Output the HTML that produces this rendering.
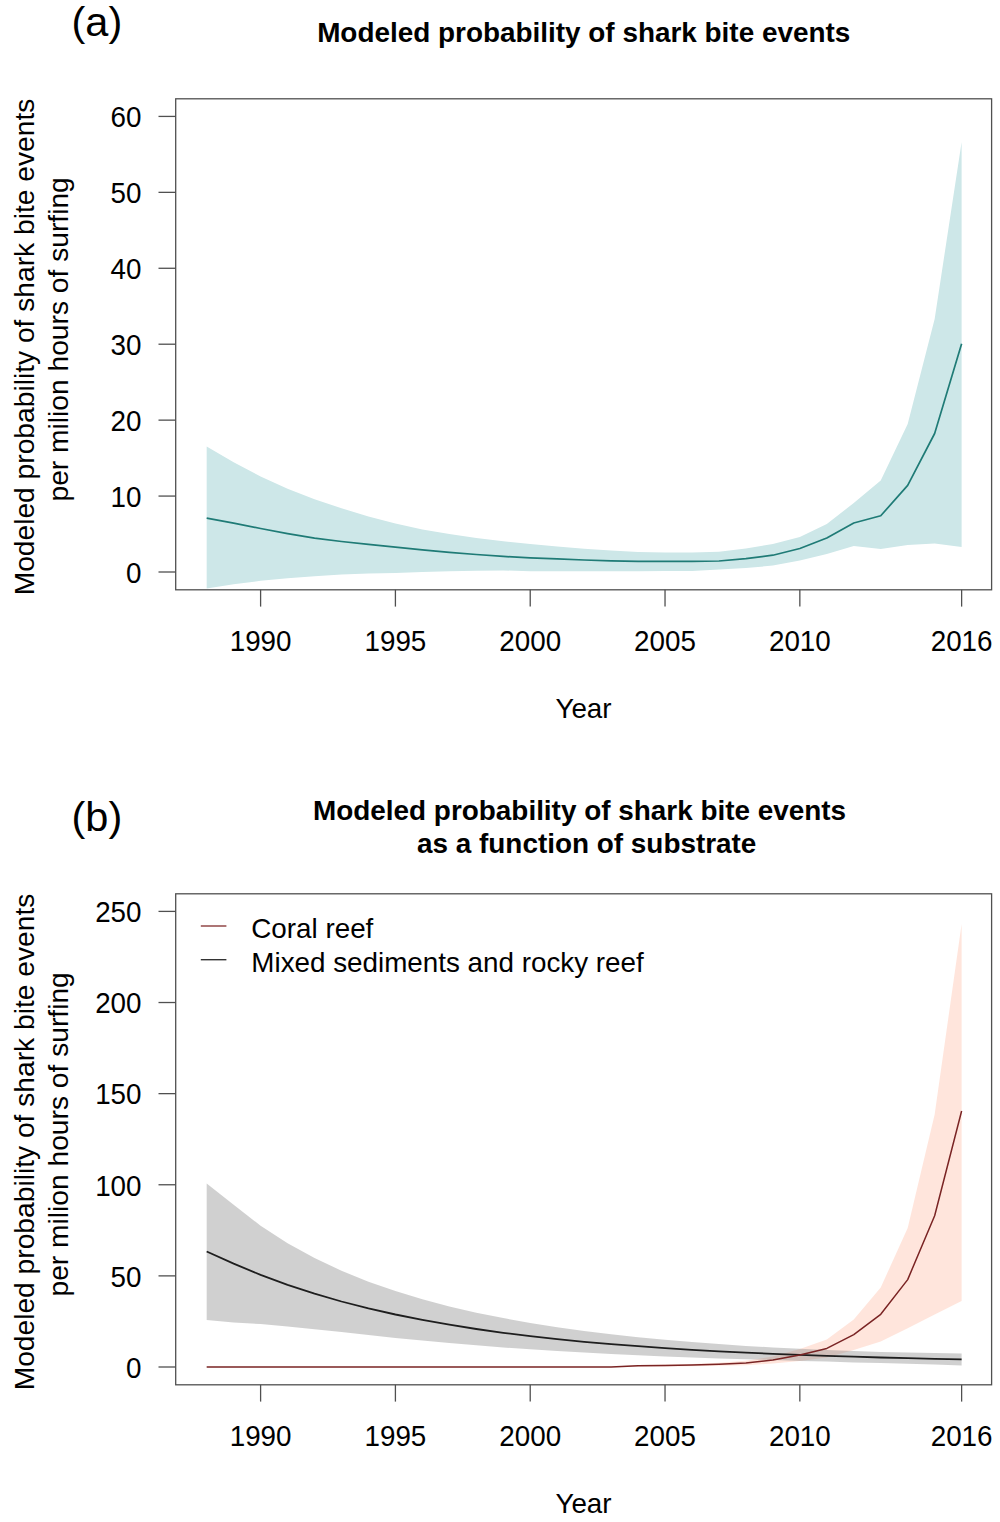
<!DOCTYPE html>
<html><head><meta charset="utf-8"><style>
html,body{margin:0;padding:0;background:#fff;width:1000px;height:1522px;overflow:hidden}
svg{display:block}
.t{font-family:"Liberation Sans", sans-serif;font-size:27.8px;fill:#000}
.b{font-family:"Liberation Sans", sans-serif;font-size:27.9px;font-weight:bold;fill:#000}
.ty{font-family:"Liberation Sans", sans-serif;font-size:28.2px;fill:#000}
.lab{font-family:"Liberation Sans", sans-serif;font-size:41.5px;fill:#000}
</style></head><body>
<svg width="1000" height="1522" viewBox="0 0 1000 1522">
<defs><clipPath id="ca"><rect x="175.7" y="98.8" width="815.9000000000001" height="490.99999999999994"/></clipPath><clipPath id="cb"><rect x="175.7" y="98.8" width="815.9000000000001" height="490.99999999999994"/></clipPath></defs>
<rect width="1000" height="1522" fill="#fff"/>
<g transform="translate(0,0)">
<g clip-path="url(#ca)">
<polygon points="206.68,446.50 233.64,462.30 260.60,476.50 287.57,488.80 314.53,499.30 341.49,508.30 368.45,516.50 395.41,523.60 422.38,529.40 449.34,534.00 476.30,538.00 503.26,541.20 530.22,544.00 557.19,546.40 584.15,548.80 611.11,550.40 638.07,552.00 665.03,552.50 692.00,552.50 718.96,551.70 745.92,548.50 772.88,544.00 799.84,537.00 826.81,524.00 853.77,503.00 880.73,480.50 907.69,424.00 934.65,319.00 961.62,142.00 961.62,547.00 934.65,543.60 907.69,545.00 880.73,549.00 853.77,546.00 826.81,554.00 799.84,560.50 772.88,565.60 745.92,568.00 718.96,569.60 692.00,570.90 665.03,570.90 638.07,571.30 611.11,571.20 584.15,571.20 557.19,571.20 530.22,571.20 503.26,570.50 476.30,570.80 449.34,571.30 422.38,571.90 395.41,572.90 368.45,573.40 341.49,574.60 314.53,576.30 287.57,578.20 260.60,580.80 233.64,584.20 206.68,588.60" fill="#cde7e8"/>
<polyline points="206.68,518.10 233.64,523.20 260.60,528.50 287.57,533.60 314.53,538.10 341.49,541.50 368.45,544.40 395.41,547.20 422.38,549.80 449.34,552.40 476.30,554.50 503.26,556.40 530.22,557.90 557.19,558.90 584.15,560.00 611.11,560.80 638.07,561.30 665.03,561.30 692.00,561.30 718.96,561.00 745.92,558.70 772.88,555.20 799.84,548.50 826.81,538.00 853.77,523.00 880.73,515.80 907.69,485.40 934.65,433.50 961.62,343.80" fill="none" stroke="#1f7b76" stroke-width="1.7" stroke-linejoin="round"/>
</g>
<rect x="175.7" y="98.8" width="815.9000000000001" height="490.99999999999994" fill="none" stroke="#505050" stroke-width="1.3"/>
<line x1="158.5" y1="572.0" x2="175.7" y2="572.0" stroke="#505050" stroke-width="1.3"/>
<text transform="translate(141.50,582.80) scale(1,1.045)" text-anchor="end" class="t">0</text>
<line x1="158.5" y1="496.07" x2="175.7" y2="496.07" stroke="#505050" stroke-width="1.3"/>
<text transform="translate(141.50,506.87) scale(1,1.045)" text-anchor="end" class="t">10</text>
<line x1="158.5" y1="420.14" x2="175.7" y2="420.14" stroke="#505050" stroke-width="1.3"/>
<text transform="translate(141.50,430.94) scale(1,1.045)" text-anchor="end" class="t">20</text>
<line x1="158.5" y1="344.21" x2="175.7" y2="344.21" stroke="#505050" stroke-width="1.3"/>
<text transform="translate(141.50,355.01) scale(1,1.045)" text-anchor="end" class="t">30</text>
<line x1="158.5" y1="268.28" x2="175.7" y2="268.28" stroke="#505050" stroke-width="1.3"/>
<text transform="translate(141.50,279.08) scale(1,1.045)" text-anchor="end" class="t">40</text>
<line x1="158.5" y1="192.35" x2="175.7" y2="192.35" stroke="#505050" stroke-width="1.3"/>
<text transform="translate(141.50,203.15) scale(1,1.045)" text-anchor="end" class="t">50</text>
<line x1="158.5" y1="116.42" x2="175.7" y2="116.42" stroke="#505050" stroke-width="1.3"/>
<text transform="translate(141.50,127.22) scale(1,1.045)" text-anchor="end" class="t">60</text>
<line x1="260.60" y1="589.8" x2="260.60" y2="606.6" stroke="#505050" stroke-width="1.3"/>
<text transform="translate(260.60,650.80) scale(1,1.045)" text-anchor="middle" class="t">1990</text>
<line x1="395.41" y1="589.8" x2="395.41" y2="606.6" stroke="#505050" stroke-width="1.3"/>
<text transform="translate(395.41,650.80) scale(1,1.045)" text-anchor="middle" class="t">1995</text>
<line x1="530.22" y1="589.8" x2="530.22" y2="606.6" stroke="#505050" stroke-width="1.3"/>
<text transform="translate(530.22,650.80) scale(1,1.045)" text-anchor="middle" class="t">2000</text>
<line x1="665.03" y1="589.8" x2="665.03" y2="606.6" stroke="#505050" stroke-width="1.3"/>
<text transform="translate(665.03,650.80) scale(1,1.045)" text-anchor="middle" class="t">2005</text>
<line x1="799.84" y1="589.8" x2="799.84" y2="606.6" stroke="#505050" stroke-width="1.3"/>
<text transform="translate(799.84,650.80) scale(1,1.045)" text-anchor="middle" class="t">2010</text>
<line x1="961.62" y1="589.8" x2="961.62" y2="606.6" stroke="#505050" stroke-width="1.3"/>
<text transform="translate(961.62,650.80) scale(1,1.045)" text-anchor="middle" class="t">2016</text>
<text transform="translate(583.50,717.80) scale(1,1.0)" text-anchor="middle" class="t">Year</text>
<text transform="translate(34.40,347.00) rotate(-90) scale(1,1.0)" text-anchor="middle" class="ty">Modeled probability of shark bite events</text>
<text transform="translate(68.20,339.38) rotate(-90) scale(1,1.0)" text-anchor="middle" class="ty">per milion hours of surfing</text>
<text transform="translate(71.50,36.00) scale(1,1.0)" class="lab">(a)</text>
<text transform="translate(583.70,42.00) scale(1,1.0)" text-anchor="middle" class="b">Modeled probability of shark bite events</text>
</g>
<g transform="translate(0,795)">
<g clip-path="url(#cb)">
<polygon points="206.68,571.70 233.64,571.70 260.60,571.70 287.57,571.70 314.53,571.70 341.49,571.70 368.45,571.70 395.41,571.70 422.38,571.70 449.34,571.70 476.30,571.70 503.26,571.70 530.22,571.70 557.19,571.70 584.15,571.70 611.11,571.70 638.07,570.00 665.03,569.60 692.00,569.00 718.96,567.80 745.92,565.80 772.88,561.50 799.84,554.00 826.81,544.60 853.77,524.60 880.73,492.50 907.69,433.00 934.65,319.50 961.62,129.00 961.62,506.00 934.65,519.40 907.69,533.20 880.73,546.50 853.77,555.00 826.81,562.50 799.84,566.00 772.88,568.50 745.92,570.20 718.96,570.80 692.00,571.20 665.03,571.40 638.07,571.60 611.11,572.10 584.15,572.10 557.19,572.10 530.22,572.10 503.26,572.10 476.30,572.10 449.34,572.10 422.38,572.10 395.41,572.10 368.45,572.10 341.49,572.10 314.53,572.10 287.57,572.10 260.60,572.10 233.64,572.10 206.68,572.10" fill="rgb(255,127,80)" fill-opacity="0.2"/>
<polygon points="206.68,388.50 233.64,409.80 260.60,430.70 287.57,448.20 314.53,463.10 341.49,475.80 368.45,486.70 395.41,496.10 422.38,504.30 449.34,511.40 476.30,517.70 503.26,523.10 530.22,528.00 557.19,532.20 584.15,536.00 611.11,539.30 638.07,542.20 665.03,544.80 692.00,547.10 718.96,549.10 745.92,550.90 772.88,552.50 799.84,553.80 826.81,555.00 853.77,556.00 880.73,556.90 907.69,557.50 934.65,558.00 961.62,558.40 961.62,570.40 934.65,569.60 907.69,568.80 880.73,568.10 853.77,567.40 826.81,566.60 799.84,565.90 772.88,565.10 745.92,564.30 718.96,563.40 692.00,562.40 665.03,561.40 638.07,560.20 611.11,559.00 584.15,557.60 557.19,556.00 530.22,554.30 503.26,552.40 476.30,550.30 449.34,548.10 422.38,545.60 395.41,542.90 368.45,540.10 341.49,537.10 314.53,534.20 287.57,531.40 260.60,529.10 233.64,527.50 206.68,525.00" fill="rgb(128,128,128)" fill-opacity="0.37"/>
<polyline points="206.68,456.50 233.64,468.60 260.60,479.90 287.57,489.80 314.53,498.60 341.49,506.50 368.45,513.40 395.41,519.50 422.38,524.90 449.34,529.70 476.30,534.00 503.26,537.80 530.22,541.10 557.19,544.10 584.15,546.80 611.11,549.10 638.07,551.20 665.03,553.10 692.00,554.80 718.96,556.30 745.92,557.60 772.88,558.80 799.84,559.90 826.81,560.80 853.77,561.70 880.73,562.50 907.69,563.20 934.65,563.80 961.62,564.40" fill="none" stroke="#1e1e1e" stroke-width="1.8" stroke-linejoin="round"/>
<polyline points="206.68,571.90 233.64,571.90 260.60,571.90 287.57,571.90 314.53,571.90 341.49,571.90 368.45,571.90 395.41,571.90 422.38,571.90 449.34,571.90 476.30,571.90 503.26,571.90 530.22,571.90 557.19,571.90 584.15,571.90 611.11,571.90 638.07,570.80 665.03,570.50 692.00,570.10 718.96,569.30 745.92,568.00 772.88,565.00 799.84,560.00 826.81,553.40 853.77,539.60 880.73,519.30 907.69,484.60 934.65,420.80 961.62,316.00" fill="none" stroke="#7a2424" stroke-width="1.5" stroke-linejoin="round"/>
</g>
<line x1="200.8" y1="131" x2="226.4" y2="131" stroke="#8a3a3a" stroke-width="1.4"/>
<line x1="200.8" y1="164.70000000000005" x2="226.4" y2="164.70000000000005" stroke="#333" stroke-width="1.4"/>
<text transform="translate(251.30,142.80) scale(1,1.0)" class="t">Coral reef</text>
<text transform="translate(251.30,176.50) scale(1,1.0)" class="t">Mixed sediments and rocky reef</text>
<rect x="175.7" y="98.8" width="815.9000000000001" height="490.99999999999994" fill="none" stroke="#505050" stroke-width="1.3"/>
<line x1="158.5" y1="572.0" x2="175.7" y2="572.0" stroke="#505050" stroke-width="1.3"/>
<text transform="translate(141.50,582.80) scale(1,1.045)" text-anchor="end" class="t">0</text>
<line x1="158.5" y1="480.88" x2="175.7" y2="480.88" stroke="#505050" stroke-width="1.3"/>
<text transform="translate(141.50,491.68) scale(1,1.045)" text-anchor="end" class="t">50</text>
<line x1="158.5" y1="389.76" x2="175.7" y2="389.76" stroke="#505050" stroke-width="1.3"/>
<text transform="translate(141.50,400.56) scale(1,1.045)" text-anchor="end" class="t">100</text>
<line x1="158.5" y1="298.64" x2="175.7" y2="298.64" stroke="#505050" stroke-width="1.3"/>
<text transform="translate(141.50,309.44) scale(1,1.045)" text-anchor="end" class="t">150</text>
<line x1="158.5" y1="207.52" x2="175.7" y2="207.52" stroke="#505050" stroke-width="1.3"/>
<text transform="translate(141.50,218.32) scale(1,1.045)" text-anchor="end" class="t">200</text>
<line x1="158.5" y1="116.4" x2="175.7" y2="116.4" stroke="#505050" stroke-width="1.3"/>
<text transform="translate(141.50,127.20) scale(1,1.045)" text-anchor="end" class="t">250</text>
<line x1="260.60" y1="589.8" x2="260.60" y2="606.6" stroke="#505050" stroke-width="1.3"/>
<text transform="translate(260.60,650.80) scale(1,1.045)" text-anchor="middle" class="t">1990</text>
<line x1="395.41" y1="589.8" x2="395.41" y2="606.6" stroke="#505050" stroke-width="1.3"/>
<text transform="translate(395.41,650.80) scale(1,1.045)" text-anchor="middle" class="t">1995</text>
<line x1="530.22" y1="589.8" x2="530.22" y2="606.6" stroke="#505050" stroke-width="1.3"/>
<text transform="translate(530.22,650.80) scale(1,1.045)" text-anchor="middle" class="t">2000</text>
<line x1="665.03" y1="589.8" x2="665.03" y2="606.6" stroke="#505050" stroke-width="1.3"/>
<text transform="translate(665.03,650.80) scale(1,1.045)" text-anchor="middle" class="t">2005</text>
<line x1="799.84" y1="589.8" x2="799.84" y2="606.6" stroke="#505050" stroke-width="1.3"/>
<text transform="translate(799.84,650.80) scale(1,1.045)" text-anchor="middle" class="t">2010</text>
<line x1="961.62" y1="589.8" x2="961.62" y2="606.6" stroke="#505050" stroke-width="1.3"/>
<text transform="translate(961.62,650.80) scale(1,1.045)" text-anchor="middle" class="t">2016</text>
<text transform="translate(583.50,717.80) scale(1,1.0)" text-anchor="middle" class="t">Year</text>
<text transform="translate(34.40,347.00) rotate(-90) scale(1,1.0)" text-anchor="middle" class="ty">Modeled probability of shark bite events</text>
<text transform="translate(68.20,339.38) rotate(-90) scale(1,1.0)" text-anchor="middle" class="ty">per milion hours of surfing</text>
<text transform="translate(71.50,36.00) scale(1,1.0)" class="lab">(b)</text>
<text transform="translate(313.00,25.00) scale(1,1.0)" class="b">Modeled probability of shark bite events</text>
<text transform="translate(417.00,58.00) scale(1,1.0)" class="b">as a function of substrate</text>
</g>
</svg>
</body></html>
